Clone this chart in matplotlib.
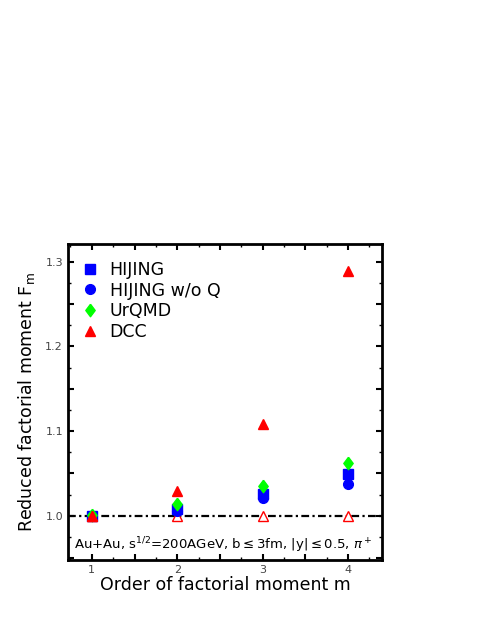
import matplotlib
matplotlib.use("Agg")
import matplotlib.pyplot as plt
from matplotlib.ticker import MultipleLocator, FuncFormatter

# factorial moment order
m = [1, 2, 3, 4]
hijing = [1.000, 1.008, 1.026, 1.049]
hijing_noq = [1.000, 1.006, 1.021, 1.038]
urqmd = [1.001, 1.014, 1.035, 1.062]
dcc = [1.000, 1.029, 1.109, 1.289]
dcc_open = [1.000, 1.000, 1.000, 1.000]

plt.rcParams["font.family"] = ["DejaVu Sans"]

diamond = [(0, 1), (0.75, 0), (0, -1), (-0.75, 0), (0, 1)]

fig = plt.figure(figsize=(4.85, 6.27), dpi=100)
ax = fig.add_axes([0.140, 0.107, 0.648, 0.504])

ax.axhline(1.0, color="black", lw=1.6, ls=(0, (3.5, 1.5, 1, 1.5)), zorder=1)

ax.plot(m, hijing, "s", color="#0000ff", ms=6.5, ls="none", label="HIJING", zorder=3)
ax.plot(m, hijing_noq, "o", color="#0000ff", ms=7, ls="none", label="HIJING w/o Q", zorder=3)
ax.plot(m, urqmd, marker=diamond, color="#00ff00", ms=9, ls="none", label="UrQMD", zorder=4)
ax.plot(m, dcc, "^", color="#ff0000", ms=7.5, ls="none", label="DCC", zorder=4)
ax.plot(m[1:], dcc_open[1:], "^", mfc="white", mec="#ff0000", mew=1.0, ms=7.5, ls="none", zorder=2)
ax.plot(m[:1], dcc_open[:1], "^", color="#ff0000", ms=7.5, ls="none", zorder=5)

ax.set_xlim(0.72, 4.4)
ax.set_ylim(0.948, 1.321)
ax.xaxis.set_major_locator(MultipleLocator(0.5))
ax.xaxis.set_major_formatter(FuncFormatter(lambda v, p: "%d" % v if abs(v - round(v)) < 1e-6 else ""))
ax.xaxis.set_minor_locator(MultipleLocator(0.25))
ax.yaxis.set_major_locator(MultipleLocator(0.05))
ax.yaxis.set_major_formatter(FuncFormatter(lambda v, p: "%.1f" % v if abs(v * 10 - round(v * 10)) < 1e-6 else ""))
ax.yaxis.set_minor_locator(MultipleLocator(0.025))
ax.tick_params(which="both", direction="in", top=True, right=True, labelsize=8, labelcolor="#444444")
ax.tick_params(which="major", length=4, width=1.5)
ax.tick_params(which="minor", length=2.5, width=1)
for s in ax.spines.values():
    s.set_linewidth(2)

ax.set_xlabel("Order of factorial moment m", fontsize=12.5, labelpad=1)
ax.set_ylabel("Reduced factorial moment F$_\\mathregular{m}$", fontsize=12.5, labelpad=6)

ax.text(0.02, 0.035, "Au+Au, s$^{1/2}$=200AGeV, b$\\leq$3fm, |y|$\\leq$0.5, $\\pi^+$",
        transform=ax.transAxes, fontsize=9.5)

ax.legend(loc="upper left", frameon=False, fontsize=12.5, handletextpad=0.6,
          borderaxespad=0.4, labelspacing=0.15, handlelength=1.0,
          bbox_to_anchor=(0.0, 0.99))

fig.savefig("out.png", dpi=100)
